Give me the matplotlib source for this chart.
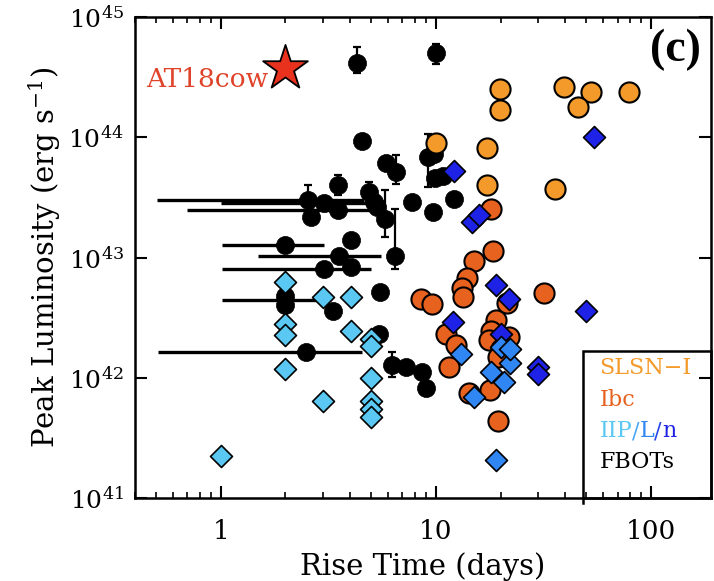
import matplotlib
matplotlib.use('Agg')
from matplotlib import pyplot as plt
from matplotlib.patches import Rectangle
from matplotlib.ticker import LogLocator, NullLocator, NullFormatter

plt.rcParams['font.family'] = 'DejaVu Serif'
plt.rcParams['mathtext.fontset'] = 'dejavuserif'

# ---- data (rise time in days, peak luminosity in erg/s) ----
slsn_t = [10.0, 19.9, 19.9, 17.3, 17.3, 39.4, 52.6, 45.8, 79.0, 35.8]
slsn_L = [8.9e43, 2.5e44, 1.7e44, 8.2e43, 4.0e43, 2.6e44, 2.4e44, 1.8e44, 2.4e44, 3.7e43]

ibc_t = [18.0, 18.5, 15.0, 13.9, 13.2, 13.4, 8.5, 9.6, 31.8, 11.1, 12.4,
         11.5, 14.2, 17.8, 19.4, 19.0, 18.0, 17.6, 21.9, 20.1, 19.4, 21.4]
ibc_L = [2.55e43, 1.14e43, 9.3e42, 6.7e42, 5.6e42, 4.66e42, 4.48e42, 4.07e42, 5.1e42, 2.3e42, 1.86e42,
         1.22e42, 7.4e41, 7.9e41, 4.36e41, 3.05e42, 2.43e42, 2.05e42, 2.17e42, 1.73e42, 1.48e42, 4.2e42]

iip_t = [2.0, 2.98, 4.02, 2.0, 2.0, 4.02, 4.98, 4.98, 2.0, 4.98, 2.98, 4.98, 4.98, 4.98, 1.0]
iip_L = [6.2e42, 4.66e42, 4.66e42, 2.78e42, 2.25e42, 2.43e42, 2.09e42, 1.82e42, 1.18e42,
         9.9e41, 6.4e41, 6.4e41, 5.5e41, 4.7e41, 2.23e41]

iil_t = [13.1, 18.0, 20.7, 22.1, 15.0, 20.1, 22.1, 19.0]
iil_L = [1.57e42, 1.11e42, 9.2e41, 1.32e42, 6.9e41, 1.79e42, 1.73e42, 2.07e41]

iin_t = [12.1, 14.7, 15.8, 19.0, 54.3, 49.9, 21.9, 12.0, 20.1, 29.8, 29.8]
iin_L = [5.27e43, 1.99e43, 2.27e43, 5.86e42, 1.01e44, 3.56e42, 4.48e42, 2.89e42, 2.3e42, 1.22e42, 1.07e42]

fbot_t = [4.29, 10.0, 4.53, 5.85, 6.51, 9.18, 9.79, 9.89, 10.78, 3.5, 4.88, 5.15, 5.32,
          5.79, 6.45, 7.73, 9.68, 12.1, 2.54, 3.01, 3.5, 2.62, 2.0, 4.02, 3.54, 3.01,
          4.02, 2.0, 2.0, 3.32, 5.49, 5.43, 2.49, 6.24, 7.25, 8.61, 8.99]
fbot_L = [4.15e44, 5.03e44, 9.35e43, 6.14e43, 5.17e43, 6.89e43, 7.3e43, 4.61e43, 4.79e43,
          4.04e43, 3.53e43, 2.92e43, 2.65e43, 2.11e43, 1.02e43, 2.92e43, 2.41e43, 3.09e43,
          3.03e43, 2.86e43, 2.5e43, 2.19e43, 1.26e43, 1.41e43, 1.02e43, 8.1e42, 8.4e42,
          4.8e42, 4.0e42, 3.56e42, 5.13e42, 2.3e42, 1.63e42, 1.27e42, 1.22e42, 1.11e42, 8.2e41]

# vertical error bars: t, L, L_low, L_high
fbot_verr_t = [4.29, 10.0, 6.51, 9.18, 3.5, 4.88, 5.79, 6.45, 2.54, 6.24]
fbot_verr_L = [4.15e44, 5.03e44, 5.17e43, 6.89e43, 4.04e43, 3.53e43, 2.11e43, 1.02e43, 3.03e43, 1.27e42]
fbot_verr_lo = [3.43e44, 4.07e44, 4.11e43, 3.88e43, 3.34e43, 2.92e43, 1.47e43, 7.95e42, 2.27e43, 1.01e42]
fbot_verr_hi = [5.64e44, 5.97e44, 7.16e43, 1.07e44, 4.89e43, 4.27e43, 3.66e43, 2.55e43, 4.04e43, 1.63e42]

# horizontal error bars: t, L, t_low, t_high
fbot_herr_t = [2.54, 3.01, 3.5, 2.0, 3.54, 3.01, 2.0, 2.49]
fbot_herr_L = [3.03e43, 2.86e43, 2.5e43, 1.26e43, 1.02e43, 8.1e42, 4.4e42, 1.63e42]
fbot_herr_lo = [0.504, 1.0, 0.70, 1.01, 1.49, 1.01, 1.01, 0.51]
fbot_herr_hi = [4.63, 4.83, 5.55, 3.01, 5.55, 4.98, 2.92, 4.53]

cow_t, cow_L = 2.0, 3.77e44

c_slsn = '#F39A2A'
c_ibc = '#E8621F'
c_iip = '#5AC8F2'
c_iil = '#3086F2'
c_iin = '#1E22E6'

fig = plt.figure(figsize=(7.14, 5.81), dpi=100)
ax = fig.add_axes([135 / 714, 83 / 581, 576 / 714, 481 / 581])

# FBOTs first (error bars under the markers)
xlo = [t - lo for t, lo in zip(fbot_herr_t, fbot_herr_lo)]
xhi = [hi - t for t, hi in zip(fbot_herr_t, fbot_herr_hi)]
ax.errorbar(fbot_herr_t, fbot_herr_L, xerr=[xlo, xhi], fmt='none', ecolor='black',
            elinewidth=2.4, capsize=0, zorder=2)
ylo = [L - lo for L, lo in zip(fbot_verr_L, fbot_verr_lo)]
yhi = [hi - L for L, hi in zip(fbot_verr_L, fbot_verr_hi)]
ax.errorbar(fbot_verr_t, fbot_verr_L, yerr=[ylo, yhi], fmt='none', ecolor='black',
            elinewidth=1.6, capsize=3.2, capthick=1.6, zorder=2)
ax.scatter(fbot_t, fbot_L, s=170, c='black', edgecolors='black', linewidths=0.5, zorder=3)

# SLSN-I and Ibc circles
ax.scatter(slsn_t, slsn_L, s=210, c=c_slsn, edgecolors='black', linewidths=1.5, zorder=4)
ax.scatter(ibc_t, ibc_L, s=210, c=c_ibc, edgecolors='black', linewidths=1.5, zorder=4)

# Type II diamonds
ax.scatter(iip_t, iip_L, s=125, marker='D', c=c_iip, edgecolors='black', linewidths=1.2, zorder=5)
ax.scatter(iin_t, iin_L, s=125, marker='D', c=c_iin, edgecolors='black', linewidths=1.2, zorder=5)
ax.scatter(iil_t, iil_L, s=125, marker='D', c=c_iil, edgecolors='black', linewidths=1.2, zorder=5)

# AT2018cow
ax.scatter([cow_t], [cow_L], s=1150, marker='*', c='#E8321E', edgecolors='black',
           linewidths=1.3, zorder=6)
ax.text(1.67, 3.0e44, 'AT18cow', color='#E0432B', fontsize=19, ha='right', va='center')

ax.set_xscale('log')
ax.set_yscale('log')
ax.set_xlim(0.4, 190)
ax.set_ylim(1e41, 1e45)

ax.set_xticks([1, 10, 100])
ax.set_xticklabels(['1', '10', '100'])
ax.xaxis.set_minor_locator(LogLocator(base=10, subs=range(2, 10)))
ax.xaxis.set_minor_formatter(NullFormatter())
ax.set_yticks([1e41, 1e42, 1e43, 1e44, 1e45])
ax.set_yticklabels([r'$10^{41}$', r'$10^{42}$', r'$10^{43}$', r'$10^{44}$', r'$10^{45}$'])
ax.yaxis.set_minor_locator(NullLocator())

ax.tick_params(which='both', direction='in', top=True, right=True)
ax.tick_params(which='major', length=8.5, width=1.5)
ax.tick_params(which='minor', length=4.5, width=1.2)
ax.tick_params(axis='x', which='major', labelsize=19, pad=15)
ax.tick_params(axis='y', which='major', labelsize=18, pad=8)
for sp in ax.spines.values():
    sp.set_linewidth(1.8)

ax.set_xlabel('Rise Time (days)', fontsize=21, labelpad=6)
ax.set_ylabel(r'Peak Luminosity (erg s$^{-1}$)', fontsize=21, labelpad=4)

ax.text(0.9375, 0.931, '(c)', transform=ax.transAxes, fontsize=33, fontweight='bold',
        family='Liberation Serif', ha='center', va='center')

# legend box
ax.add_patch(Rectangle((0.778, 0.0), 0.222, 0.306, transform=ax.transAxes, fill=False,
                       edgecolor='black', lw=1.8, clip_on=False, zorder=7))
ax.plot([0.778, 0.778], [-0.01, 0.0], transform=ax.transAxes, color='black', lw=1.8,
        clip_on=False, zorder=7)
lx = 0.806
ax.text(lx, 0.270, 'SLSN\u2212I', color=c_slsn, fontsize=16, transform=ax.transAxes, va='center')
ax.text(lx, 0.204, 'Ibc', color=c_ibc, fontsize=16, transform=ax.transAxes, va='center')
t1 = ax.text(lx, 0.139, 'IIP', color=c_iip, fontsize=16, transform=ax.transAxes, va='center')
t2 = ax.annotate('/', xy=(1, 0), xycoords=t1, va='bottom', ha='left', color='#4AA6F2', fontsize=16)
t3 = ax.annotate('L', xy=(1, 0), xycoords=t2, va='bottom', ha='left', color=c_iil, fontsize=16)
t4 = ax.annotate('/', xy=(1, 0), xycoords=t3, va='bottom', ha='left', color='#2546E8', fontsize=16)
ax.annotate('n', xy=(1, 0), xycoords=t4, va='bottom', ha='left', color=c_iin, fontsize=16)
ax.text(lx, 0.075, 'FBOTs', color='black', fontsize=16, transform=ax.transAxes, va='center')

fig.savefig('out.png', dpi=100)
